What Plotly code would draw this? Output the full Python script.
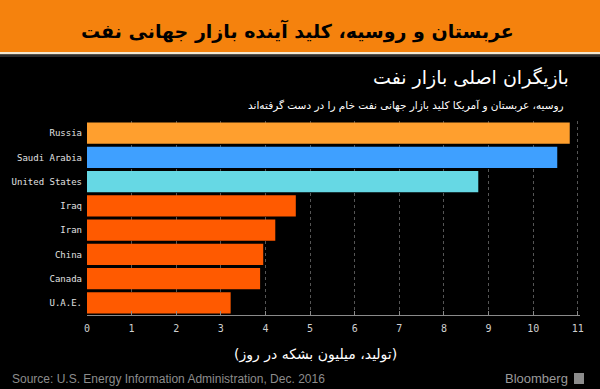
import plotly.graph_objects as go

countries = ["Russia", "Saudi Arabia", "United States", "Iraq", "Iran", "China", "Canada", "U.A.E."]
production = [10.82, 10.54, 8.77, 4.68, 4.22, 3.95, 3.88, 3.22]
bar_colors = ["#FF9F2E", "#3FA0FF", "#66D8E4", "#FF5A00", "#FF5A00", "#FF5A00", "#FF5A00", "#FF5A00"]
x_ticks = list(range(0, 12))

W, H = 600, 389
ML, MR, MT, MB = 87, 20, 121, 74
PW, PH = W - ML - MR, H - MT - MB


def px(x):
    return (x - ML) / PW


def py(y):
    return (H - MB - y) / PH


fig = go.Figure(
    go.Bar(
        x=production,
        y=countries,
        orientation="h",
        marker=dict(color=bar_colors, line=dict(width=0)),
        hoverinfo="x+y",
    )
)

fig.update_layout(
    width=W,
    height=H,
    margin=dict(l=ML, r=MR, t=MT, b=MB),
    paper_bgcolor="#000000",
    plot_bgcolor="#000000",
    bargap=0.13,
    showlegend=False,
    xaxis=dict(
        range=[0, 11.05],
        tickvals=x_ticks,
        ticktext=[str(v) for v in x_ticks],
        showgrid=True,
        gridcolor="#555555",
        griddash="dot",
        gridwidth=1,
        zeroline=False,
        showline=True,
        linecolor="#8a8a8a",
        linewidth=1,
        ticks="inside",
        ticklen=4,
        tickcolor="#8a8a8a",
        ticklabelstandoff=4,
        tickfont=dict(family="DejaVu Sans Mono", size=10, color="#d0d0d0"),
        fixedrange=True,
    ),
    yaxis=dict(
        autorange="reversed",
        showgrid=False,
        zeroline=False,
        showline=False,
        ticks="",
        ticklabelstandoff=4,
        tickfont=dict(family="DejaVu Sans Mono", size=9, color="#e0e0e0"),
        fixedrange=True,
    ),
    shapes=[
        dict(type="rect", xref="paper", yref="paper", x0=px(0), x1=px(W), y0=py(52), y1=py(0),
             fillcolor="#F5820D", line=dict(width=0), layer="below"),
        dict(type="rect", xref="paper", yref="paper", x0=px(0), x1=px(W), y0=py(54.5), y1=py(52),
             fillcolor="#F4E8D0", line=dict(width=0), layer="below"),
        dict(type="rect", xref="paper", yref="paper", x0=px(0), x1=px(W), y0=py(57), y1=py(54.5),
             fillcolor="#2a2a2a", line=dict(width=0), layer="below"),
        dict(type="rect", xref="paper", yref="paper", x0=px(574), x1=px(584), y0=py(384), y1=py(373),
             fillcolor="#8c8c8c", line=dict(width=0)),
    ],
    annotations=[
        dict(text="<b>عربستان و روسیه، کلید آینده بازار جهانی نفت</b>", xref="paper", yref="paper",
             x=px(297), y=py(31), xanchor="center", yanchor="middle", showarrow=False,
             font=dict(family="DejaVu Sans", size=19, color="#000000")),
        dict(text="بازیگران اصلی بازار نفت", xref="paper", yref="paper",
             x=px(571), y=py(78), xanchor="right", yanchor="middle", showarrow=False,
             font=dict(family="DejaVu Sans", size=19, color="#ffffff")),
        dict(text="روسیه، عربستان و آمریکا کلید بازار جهانی نفت خام را در دست گرفته‌اند", xref="paper", yref="paper",
             x=px(566), y=py(105), xanchor="right", yanchor="middle", showarrow=False,
             font=dict(family="DejaVu Sans", size=10.5, color="#ffffff")),
        dict(text="(تولید، میلیون بشکه در روز)", xref="paper", yref="paper",
             x=px(315), y=py(354), xanchor="center", yanchor="middle", showarrow=False,
             font=dict(family="DejaVu Sans", size=14, color="#ffffff")),
        dict(text="Source: U.S. Energy Information Administration, Dec. 2016", xref="paper", yref="paper",
             x=px(10), y=py(379), xanchor="left", yanchor="middle", showarrow=False,
             font=dict(family="Liberation Sans", size=12, color="#8c8c8c")),
        dict(text="Bloomberg", xref="paper", yref="paper",
             x=px(570), y=py(378), xanchor="right", yanchor="middle", showarrow=False,
             font=dict(family="Liberation Sans", size=13, color="#9a9a9a")),
    ],
)

fig.write_html(
    "out.html",
    config={"displayModeBar": False},
    post_script="document.body.style.margin='0px';document.body.style.padding='0px';document.body.style.overflow='hidden';",
)
